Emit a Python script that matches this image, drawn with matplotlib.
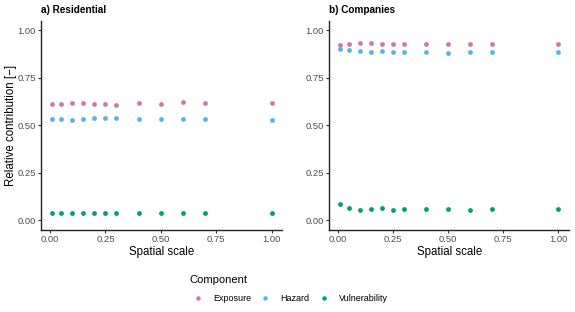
import matplotlib
matplotlib.use("Agg")
import matplotlib.pyplot as plt
from matplotlib.lines import Line2D

plt.rcParams['font.family'] = ['Liberation Sans', 'DejaVu Sans']

scales = [0.01, 0.05, 0.1, 0.15, 0.2, 0.25, 0.3, 0.4, 0.5, 0.6, 0.7, 1.0]

res_exposure = [0.612, 0.614, 0.616, 0.617, 0.615, 0.613, 0.607, 0.617, 0.614, 0.621, 0.620, 0.620]
res_hazard = [0.534, 0.534, 0.531, 0.532, 0.537, 0.537, 0.539, 0.534, 0.534, 0.534, 0.532, 0.531]
res_vulnerability = [0.040, 0.040, 0.040, 0.040, 0.040, 0.040, 0.040, 0.040, 0.040, 0.040, 0.040, 0.040]

com_exposure = [0.921, 0.927, 0.932, 0.932, 0.930, 0.927, 0.929, 0.929, 0.927, 0.927, 0.927, 0.927]
com_hazard = [0.902, 0.899, 0.890, 0.885, 0.892, 0.887, 0.887, 0.887, 0.883, 0.887, 0.887, 0.885]
com_vulnerability = [0.086, 0.065, 0.054, 0.059, 0.065, 0.054, 0.061, 0.061, 0.058, 0.054, 0.058, 0.058]

components = ["Exposure", "Hazard", "Vulnerability"]
colors = ["#CC79A7", "#56B4E9", "#009E73"]
titles = ["a) Residential", "b) Companies"]
xticks = [0.00, 0.25, 0.50, 0.75, 1.00]
yticks = [0.00, 0.25, 0.50, 0.75, 1.00]

W, H = 575, 312
fig = plt.figure(figsize=(W / 100, H / 100), dpi=100)

panels = [
    (41.3, 282.5, [res_exposure, res_hazard, res_vulnerability]),
    (329.3, 569.0, [com_exposure, com_hazard, com_vulnerability]),
]
top_px, bot_px = 21.0, 229.8

for i, (l, r, series) in enumerate(panels):
    ax = fig.add_axes([l / W, 1 - bot_px / H, (r - l) / W, (bot_px - top_px) / H])
    for vals, c in zip(series, colors):
        ax.scatter(scales, vals, s=12, color=c, linewidths=0, zorder=3)
    ax.set_xlim(-0.0395, 1.0495)
    ax.set_ylim(-0.05, 1.05)
    ax.set_xticks(xticks)
    ax.set_xticklabels([f"{t:.2f}" for t in xticks])
    ax.set_yticks(yticks)
    ax.set_yticklabels([f"{t:.2f}" for t in yticks])
    for s in ["top", "right"]:
        ax.spines[s].set_visible(False)
    for s in ["left", "bottom"]:
        ax.spines[s].set_linewidth(1.0)
        ax.spines[s].set_color("#222222")
    ax.tick_params(axis="both", length=2.5, width=0.8, color="#333333",
                   labelsize=6.8, labelcolor="#4D4D4D", pad=1.5)
    ax.set_xlabel("Spatial scale", fontsize=8.3, labelpad=1.5)
    if i == 0:
        ax.set_ylabel("Relative contribution [\u2212]", fontsize=8.3, labelpad=0.5)
    ax.set_title(titles[i], fontsize=7.2, fontweight="bold", loc="left", pad=6, x=0.0)
    ax.patch.set_visible(False)

handles = [Line2D([0], [0], marker="o", linestyle="", markersize=3.2,
                  markerfacecolor=c, markeredgewidth=0, label=lab)
           for c, lab in zip(colors, components)]
leg = fig.legend(handles=handles, title="Component", loc="lower left",
                 bbox_to_anchor=(185.5 / W, 1 - 307 / H), ncol=3, frameon=False,
                 fontsize=6.5, title_fontsize=8, handletextpad=0.67,
                 columnspacing=0.55, handlelength=2.0, labelspacing=1.05,
                 borderaxespad=0)
leg._legend_box.align = "left"

fig.savefig("out.png", dpi=100)
